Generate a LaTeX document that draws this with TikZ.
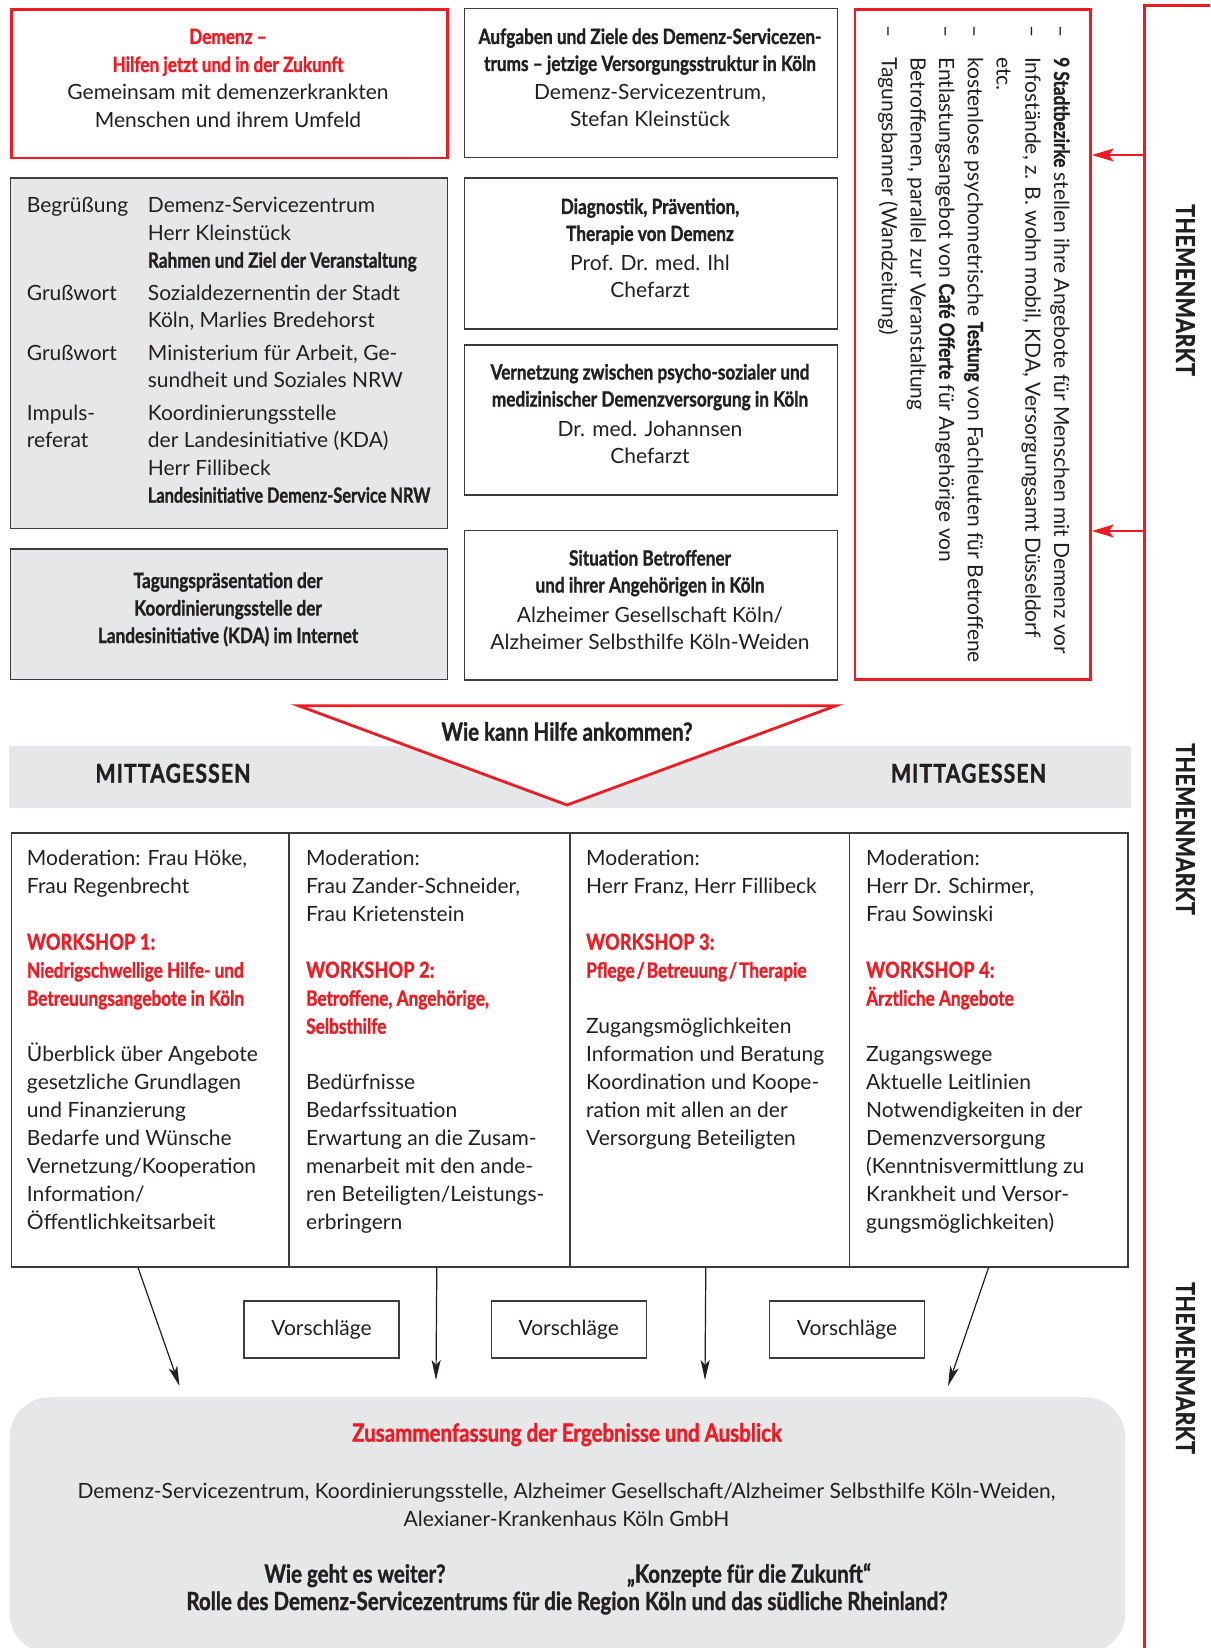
\documentclass[tikz,border=0pt]{standalone}
\usepackage{fontspec}
\usepackage{graphicx}
\setmainfont{Lato}
\newfontfamily\fcf{Lato}[FakeStretch=0.82,FakeBold=1.2]
\usetikzlibrary{arrows.meta}
\definecolor{dred}{HTML}{ED1C24}
\definecolor{lgray}{HTML}{E6E7E8}
\definecolor{ink}{HTML}{231F20}
\definecolor{bord}{HTML}{3C3C3C}
\newcommand\fb{\fontsize{21}{28}\selectfont}
\newcommand\fc{\fcf\bfseries}
\newcommand\fcr{\fcf\bfseries\color{dred}}
\newcommand\fws{\fcf\bfseries\addfontfeature{LetterSpace=1}\color{dred}\fontsize{22}{28}\selectfont}
\newcommand\blk[2]{\begin{tabular}[t]{@{}#1@{}}#2\end{tabular}}
\begin{document}
\begin{tikzpicture}[x=1pt,y=-1pt,
  txt/.style={inner sep=0pt, text=ink, font=\fb},
  box/.style={inner sep=0pt, anchor=north west},
  redbox/.style={box, draw=dred, line width=2.8pt},
  graybox/.style={box, draw=bord, fill=lgray, line width=1.5pt},
  plainbox/.style={box, draw=bord, line width=1.5pt},
  wsbox/.style={box, draw=bord, line width=1.6pt, minimum height=434pt},
  vbox/.style={draw=bord, line width=1.5pt, minimum width=155pt, minimum height=57pt, inner sep=0pt, font=\fb, text=ink},
  blackarrow/.style={draw=ink, line width=1.2pt, -{Stealth[length=20pt,width=9pt,inset=5pt]}},
  redarrow/.style={draw=dred, line width=1.3pt, -{Stealth[length=22pt,width=13pt,inset=5pt]}},
  bigcond/.style={txt, font={\fc\fontsize{25}{28}\selectfont}},
  lunch/.style={txt, font={\fc\addfontfeature{LetterSpace=4}\fontsize{26}{30}\selectfont}},
  market/.style={txt, rotate=-90, font={\fc\addfontfeature{LetterSpace=2}\fontsize{26}{30}\selectfont}},
]
\useasboundingbox (0,0) rectangle (1210,1648);
\fill[white] (0,0) rectangle (1210,1648);

% ---------- top left ----------
\node[redbox, minimum width=436pt, minimum height=148.4pt] (hdr) at (10,8.3) {};
\node[txt, anchor=base] (hdrt) at (228,44) {\blk{c}{{\fcr Demenz –}\\{\fcr Hilfen jetzt und in der Zukunft}\\Gemeinsam mit demenzerkrankten\\Menschen und ihrem Umfeld}};

\node[graybox, minimum width=437pt, minimum height=350pt] (prog) at (9.5,177.5) {};
\node[txt, anchor=base west, font={\fontsize{21}{27.5}\selectfont}] (progt) at (26.7,212.7) {\blk{l@{}l}{\makebox[121pt][l]{Begrüßung} & Demenz-Servicezentrum\\
 & Herr Kleinstück\\
 & {\fc Rahmen und Ziel der Veranstaltung}\\[5pt]
Grußwort & Sozialdezernentin der Stadt\\
 & Köln, Marlies Bredehorst\\[5pt]
Grußwort & Ministerium für Arbeit, Ge-\\
 & sundheit und Soziales NRW\\[5pt]
Impuls- & Koordinierungsstelle\\
referat & der Landesinitiative (KDA)\\
 & Herr Fillibeck\\
 & \scalebox{0.95}[1]{\fc Landesinitiative Demenz-Service NRW}}};

\node[graybox, minimum width=437pt, minimum height=130.5pt] (kda) at (9.5,548) {};
\node[txt, anchor=base, font={\fc\fontsize{21}{27.5}\selectfont}] (kdat) at (228,588) {\blk{c}{Tagungspräsentation der\\Koordinierungsstelle der\\Landesinitiative (KDA) im Internet}};

% ---------- centre column ----------
\node[plainbox, minimum width=373pt, minimum height=149pt] (ca) at (463.5,8) {};
\node[txt, anchor=base, font={\fontsize{21}{27}\selectfont}] (cat) at (650,44) {\blk{c}{{\fc Aufgaben und Ziele des Demenz-Servicezen-}\\{\fc trums – jetzige Versorgungsstruktur in Köln}\\[2pt]Demenz-Servicezentrum,\\Stefan Kleinstück}};

\node[plainbox, minimum width=373pt, minimum height=150.5pt] (cb) at (463.5,177.5) {};
\node[txt, anchor=base, font={\fontsize{21}{27}\selectfont}] (cbt) at (650,214) {\blk{c}{{\fc Diagnostik, Prävention,}\\{\fc Therapie von Demenz}\\[3pt]Prof. Dr. med. Ihl\\Chefarzt}};

\node[plainbox, minimum width=373pt, minimum height=150pt] (cc) at (463.5,344) {};
\node[txt, anchor=base, font={\fontsize{21}{27}\selectfont}] (cct) at (650,379.5) {\blk{c}{{\fc Vernetzung zwischen psycho-sozialer und}\\{\fc medizinischer Demenzversorgung in Köln}\\[3pt]Dr. med. Johannsen\\Chefarzt}};

\node[plainbox, minimum width=373pt, minimum height=149.5pt] (cd) at (463.5,529.5) {};
\node[txt, anchor=base, font={\fontsize{21}{27}\selectfont}] (cdt) at (650,565.5) {\blk{c}{{\fc Situation Betroffener}\\{\fc und ihrer Angehörigen in Köln}\\[3pt]Alzheimer Gesellschaft Köln/\\Alzheimer Selbsthilfe Köln-Weiden}};

% ---------- right red box ----------
\node[redbox, minimum width=235.5pt, minimum height=670pt] (rbox) at (853.5,8) {};
\node[txt, rotate=-90, anchor=base west, font={\fontsize{21}{28.7}\selectfont}] (rlist) at (1054,25) {\blk{l@{}l}{\makebox[32pt][l]{–} & {\fc 9 Stadtbezirke} stellen ihre Angebote für Menschen mit Demenz vor\\
– & Infostände, z. B. wohn mobil, KDA, Versorgungsamt Düsseldorf\\
 & etc.\\
– & kostenlose psychometrische {\fc Testung} von Fachleuten für Betroffene\\
– & Entlastungsangebot von {\fc Café Offerte} für Angehörige von\\
 & Betroffenen, parallel zur Veranstaltung\\
– & Tagungsbanner (Wandzeitung)}};

% ---------- Themenmarkt frame ----------
\draw[dred, line width=3pt] (1210,5.3) -- (1144,5.3) -- (1144,1652);
\coordinate (s1) at (1144,155);
\coordinate (s2) at (1144,531);
\draw[redarrow] (s1) -- (s1 -| rbox.east);
\draw[redarrow] (s2) -- (s2 -| rbox.east);
\node[market, anchor=base] (tm1) at (1176,290) {THEMENMARKT};
\node[market, anchor=base] (tm2) at (1176,829) {THEMENMARKT};
\node[market, anchor=base] (tm3) at (1176,1368) {THEMENMARKT};

% ---------- lunch band ----------
\fill[lgray] (9,746) rectangle (1131,807.5);
\draw[dred, line width=2.8pt, fill=white, line join=miter] (298.5,705.7) -- (836,705.7) -- (567,805) -- cycle;
\node[bigcond, anchor=base] (wie) at (567,740.7) {Wie kann Hilfe ankommen?};
\node[lunch, anchor=base] (mit1) at (173,782.7) {MITTAGESSEN};
\node[lunch, anchor=base] (mit2) at (968.5,782.7) {MITTAGESSEN};

% ---------- workshops ----------
\node[wsbox, minimum width=277.5pt] (w1) at (10.5,832) {};
\node[wsbox, minimum width=281pt] (w2) at (288,832) {};
\node[wsbox, minimum width=279.5pt] (w3) at (569,832) {};
\node[wsbox, minimum width=278.5pt] (w4) at (848.5,832) {};

\node[txt, anchor=base west] (w1t) at (26.8,865.7) {\blk{l}{Moderation: Frau Höke,\\Frau Regenbrecht\\[28pt]{\fws WORKSHOP 1:}\\{\fcr Niedrigschwellige Hilfe- und}\\{\fcr Betreuungsangebote in Köln}\\[28pt]Überblick über Angebote\\gesetzliche Grundlagen\\und Finanzierung\\Bedarfe und Wünsche\\Vernetzung/Kooperation\\Information/\\Öffentlichkeitsarbeit}};
\node[txt, anchor=base west] (w2t) at (306,865.7) {\blk{l}{Moderation:\\Frau Zander-Schneider,\\Frau Krietenstein\\[28pt]{\fws WORKSHOP 2:}\\{\fcr Betroffene, Angehörige,}\\{\fcr Selbsthilfe}\\[28pt]Bedürfnisse\\Bedarfssituation\\Erwartung an die Zusam-\\menarbeit mit den ande-\\ren Beteiligten/Leistungs-\\erbringern}};
\node[txt, anchor=base west] (w3t) at (586,865.7) {\blk{l}{Moderation:\\Herr Franz, Herr Fillibeck\\[28pt]{\fws WORKSHOP 3:}\\{\fcr Pflege\kern2pt/\kern2pt Betreuung\kern2pt/\kern2pt Therapie}\\[28pt]Zugangsmöglichkeiten\\Information und Beratung\\Koordination und Koope-\\ration mit allen an der\\Versorgung Beteiligten}};
\node[txt, anchor=base west] (w4t) at (866,865.7) {\blk{l}{Moderation:\\Herr Dr. Schirmer,\\Frau Sowinski\\[28pt]{\fws WORKSHOP 4:}\\{\fcr Ärztliche Angebote}\\[28pt]Zugangswege\\Aktuelle Leitlinien\\Notwendigkeiten in der\\Demenzversorgung\\(Kenntnisvermittlung zu\\Krankheit und Versor-\\gungsmöglichkeiten)}};

% ---------- proposals ----------
\node[vbox] (v1) at (321.5,1329.5) {Vorschläge};
\node[vbox] (v2) at (568.75,1329.5) {Vorschläge};
\node[vbox] (v3) at (847,1329.5) {Vorschläge};

\coordinate (e1) at (179.5,1386);
\coordinate (e2) at (436,1380);
\coordinate (e3) at (705,1380);
\coordinate (e4) at (948,1386);
\draw[blackarrow] ([xshift=-12pt]w1.south) -- (e1);
\draw[blackarrow] ([xshift=7.5pt]w2.south) -- (e2);
\draw[blackarrow] ([xshift=-3.75pt]w3.south) -- (e3);
\draw[blackarrow] (w4.south) -- (e4);

% ---------- summary ----------
\node[box, fill=lgray, rounded corners=40pt, minimum width=1115.5pt, minimum height=256pt] (sum) at (9.5,1397) {};
\node[txt, anchor=base, text=dred, font={\fc\fontsize{25}{30}\selectfont}] (sumt) at (567,1441.7) {Zusammenfassung der Ergebnisse und Ausblick};
\node[txt, anchor=base, font={\fontsize{21}{28.4}\selectfont}] (sumb) at (566.5,1498.3) {\blk{c}{Demenz-Servicezentrum, Koordinierungsstelle, Alzheimer Gesellschaft/Alzheimer Selbsthilfe Köln-Weiden,\\Alexianer-Krankenhaus Köln GmbH}};
\node[bigcond, anchor=base] (q1) at (355,1582.7) {Wie geht es weiter?};
\node[bigcond, anchor=base] (q2) at (749,1582.7) {„Konzepte für die Zukunft“};
\node[bigcond, anchor=base] (q3) at (567,1610) {Rolle des Demenz-Servicezentrums für die Region Köln und das südliche Rheinland?};
\end{tikzpicture}
\end{document}
